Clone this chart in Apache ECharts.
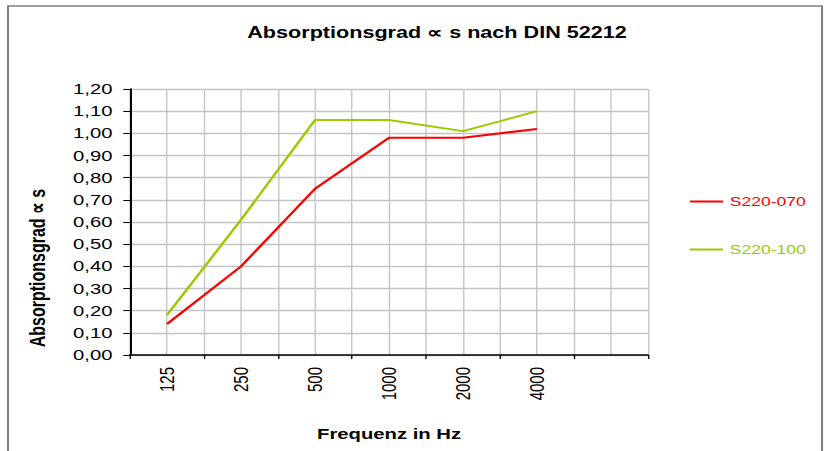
<!DOCTYPE html>
<html>
<head>
<meta charset="utf-8">
<script src="https://cdn.jsdelivr.net/npm/echarts@6/dist/echarts.min.js"></script>
<style>
html,body{margin:0;padding:0;background:#fff;overflow:hidden;}
#wrap{width:829px;height:451px;overflow:hidden;}
#chart{width:614px;height:451px;transform:scaleX(1.3502);transform-origin:0 0;}
</style>
</head>
<body>
<div id="wrap"><div id="chart"></div></div>
<script>
var categories = ['125', '250', '500', '1000', '2000', '4000', ''];
var s220_070 = [0.14, 0.40, 0.75, 0.98, 0.98, 1.02, null];
var s220_100 = [0.18, 0.61, 1.06, 1.06, 1.01, 1.10, null];
var seriesNames = ['S220-070', 'S220-100'];
var colors = ['#ff0000', '#99cc00'];

var S = 829 / 614; // horizontal stretch of the reference picture
function hx(x) { return x / S; }

var font = 'Arial, "Liberation Sans", sans-serif';
var chart = echarts.init(document.getElementById('chart'), null, {renderer: 'svg'});
chart.setOption({
  animation: false,
  backgroundColor: '#fff',
  title: {
    text: 'Absorptionsgrad ∝ s nach DIN 52212',
    left: hx(437), top: 25, textAlign: 'center', padding: 0,
    textStyle: {fontFamily: font, fontSize: 16, fontWeight: 'bold', color: '#000'}
  },
  legend: {
    orient: 'vertical', left: hx(690), top: 195, itemGap: 35, padding: 0,
    itemWidth: hx(33), itemHeight: 2,
    icon: 'rect',
    textStyle: {fontFamily: font, fontSize: 13},
    data: [
      {name: seriesNames[0], textStyle: {color: colors[0]}},
      {name: seriesNames[1], textStyle: {color: colors[1]}}
    ]
  },
  graphic: [
    {type: 'rect', shape: {x: hx(8), y: 6, width: hx(814), height: 460}, style: {fill: 'none', stroke: '#7f7f7f', lineWidth: 1.5}, silent: true},
    {type: 'text', x: hx(38), y: 268, rotation: Math.PI / 2,
     style: {text: 'Absorptionsgrad ∝ s', font: 'bold 16px Arial, "Liberation Sans", sans-serif', fill: '#000', textAlign: 'center', textVerticalAlign: 'middle'}}
  ],
  grid: {left: hx(130), right: 614 - hx(648), top: 89, bottom: 96, containLabel: false, outerBoundsMode: 'none'},
  xAxis: [
    {
      type: 'category', data: categories, boundaryGap: true,
      name: 'Frequenz in Hz', nameLocation: 'middle', nameGap: 71,
      nameTextStyle: {fontFamily: font, fontSize: 15, fontWeight: 'bold', color: '#000'},
      axisLine: {lineStyle: {color: '#000', width: 1.5}},
      axisTick: {show: true, length: 4, lineStyle: {color: '#000'}},
      axisLabel: {rotate: 90, interval: 0, margin: 12, fontFamily: font, fontSize: 15, color: '#000'},
      splitLine: {show: false}
    },
    {
      type: 'value', min: 0, max: 14, interval: 1, position: 'bottom',
      axisLine: {show: false}, axisTick: {show: false}, axisLabel: {show: false},
      splitLine: {show: true, lineStyle: {color: '#c4c4c4', width: 1}}
    }
  ],
  yAxis: {
    type: 'value', min: 0, max: 1.2, interval: 0.1,
    axisLine: {show: true, lineStyle: {color: '#000', width: 1.5}},
    axisTick: {show: true, length: 5, lineStyle: {color: '#000'}},
    axisLabel: {fontFamily: font, fontSize: 15, color: '#000', margin: 13,
      formatter: function (v) { return v.toFixed(2).replace('.', ','); }},
    splitLine: {show: true, lineStyle: {color: '#c4c4c4', width: 1.3}}
  },
  series: [
    {name: seriesNames[0], type: 'line', data: s220_070, xAxisIndex: 0, symbol: 'none',
     lineStyle: {color: colors[0], width: 2}, itemStyle: {color: colors[0]}},
    {name: seriesNames[1], type: 'line', data: s220_100, xAxisIndex: 0, symbol: 'none',
     lineStyle: {color: colors[1], width: 2}, itemStyle: {color: colors[1]}}
  ]
});
</script>
</body>
</html>
